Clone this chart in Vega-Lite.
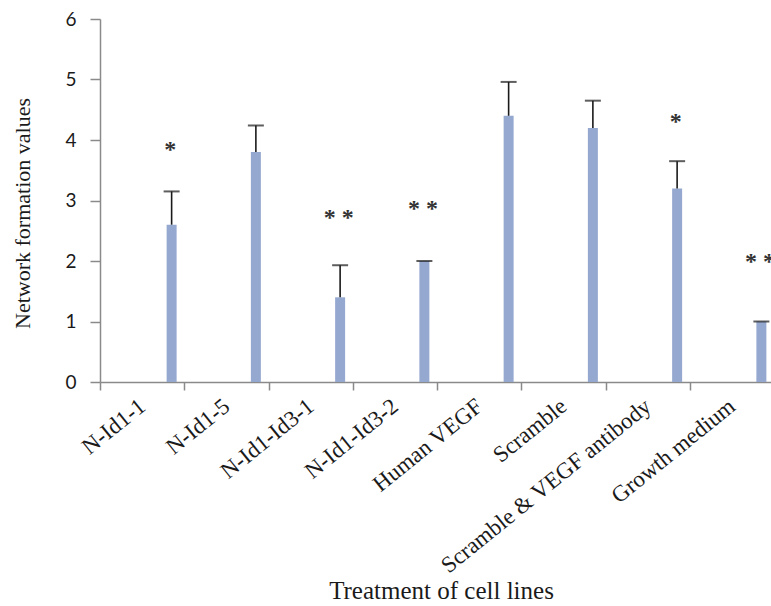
{
  "$schema": "https://vega.github.io/schema/vega-lite/v6.json",
  "width": 671,
  "height": 363,
  "autosize": "none",
  "padding": {"left": 100, "top": 19, "right": 0, "bottom": 224},
  "background": "white",
  "config": {"view": {"stroke": null}},
  "data": {
    "values": [
      {"treatment": "N-Id1-1", "value": 2.6, "upper": 3.15, "sig": "*", "sigY": 3.72},
      {"treatment": "N-Id1-5", "value": 3.8, "upper": 4.24, "sig": "", "sigY": 0},
      {"treatment": "N-Id1-Id3-1", "value": 1.4, "upper": 1.93, "sig": "* *", "sigY": 2.6},
      {"treatment": "N-Id1-Id3-2", "value": 2.0, "upper": 2.0, "sig": "* *", "sigY": 2.75},
      {"treatment": "Human VEGF", "value": 4.4, "upper": 4.96, "sig": "", "sigY": 0},
      {"treatment": "Scramble", "value": 4.2, "upper": 4.65, "sig": "", "sigY": 0},
      {"treatment": "Scramble & VEGF antibody", "value": 3.2, "upper": 3.65, "sig": "*", "sigY": 4.18},
      {"treatment": "Growth medium", "value": 1.0, "upper": 1.0, "sig": "* *", "sigY": 1.87}
    ]
  },
  "encoding": {
    "x": {
      "field": "treatment",
      "type": "nominal",
      "sort": null,
      "scale": {"paddingInner": 0, "paddingOuter": 0, "range": [0, 674]},
      "axis": {
        "title": "Treatment of cell lines",
        "titleFont": "Liberation Serif",
        "titleFontSize": 25,
        "titleFontWeight": "normal",
        "titleColor": "#1a1a1a",
        "titleAlign": "center",
        "titleBaseline": "alphabetic",
        "titleX": 341,
        "titleY": 216,
        "domainColor": "#8a8a8a",
        "domainWidth": 1.5,
        "tickColor": "#8a8a8a",
        "tickWidth": 1.5,
        "tickSize": 8,
        "tickBand": "extent",
        "labelAngle": -39,
        "labelAlign": "right",
        "labelBaseline": "middle",
        "labelPadding": 13,
        "labelFont": "Liberation Serif",
        "labelFontSize": 23,
        "labelColor": "#1a1a1a",
        "labelLimit": 400,
        "labelOverlap": false
      }
    }
  },
  "layer": [
    {
      "mark": {"type": "bar", "width": 10, "xOffset": 29.5, "color": "#95a9d0"},
      "encoding": {
        "y": {
          "field": "value",
          "type": "quantitative",
          "scale": {"domain": [0, 6], "nice": false},
          "axis": {
            "title": "Network formation values",
            "titleFont": "Liberation Serif",
            "titleFontSize": 22,
            "titleFontWeight": "normal",
            "titleColor": "#1a1a1a",
            "titleX": -78,
            "titleY": 194,
            "titleBaseline": "middle",
            "titleAlign": "center",
            "values": [0, 1, 2, 3, 4, 5, 6],
            "format": "d",
            "grid": false,
            "domainColor": "#8a8a8a",
            "domainWidth": 1.5,
            "tickColor": "#8a8a8a",
            "tickWidth": 1.5,
            "tickSize": 10,
            "labelPadding": 14,
            "labelFont": "Lato",
            "labelFontSize": 19,
            "labelColor": "#1a1a1a"
          }
        }
      }
    },
    {
      "mark": {"type": "rule", "xOffset": 29.5, "color": "#1a1a1a", "strokeWidth": 1.6},
      "encoding": {
        "y": {"field": "value", "type": "quantitative"},
        "y2": {"field": "upper"}
      }
    },
    {
      "mark": {"type": "tick", "orient": "horizontal", "xOffset": 29.5, "size": 16, "thickness": 2, "color": "#1a1a1a"},
      "encoding": {
        "y": {"field": "upper", "type": "quantitative"}
      }
    },
    {
      "transform": [{"filter": "datum.sig != ''"}],
      "mark": {"type": "text", "xOffset": 28, "font": "Liberation Serif", "fontSize": 24, "fontWeight": "bold", "baseline": "alphabetic", "align": "center", "color": "#333333"},
      "encoding": {
        "y": {"field": "sigY", "type": "quantitative"},
        "text": {"field": "sig"}
      }
    }
  ]
}
